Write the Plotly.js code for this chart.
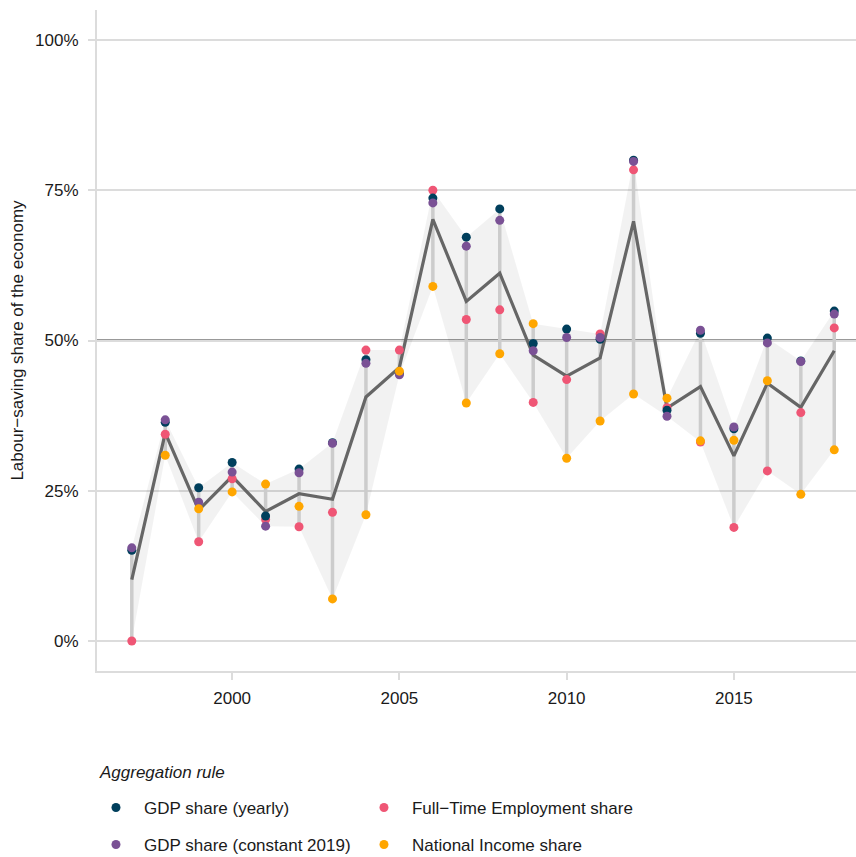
<!DOCTYPE html>
<html>
<head>
<meta charset="utf-8">
<script src="https://cdn.plot.ly/plotly-3.0.1.min.js"></script>
<style>
html,body{margin:0;padding:0;background:#fff;}
#chart{width:856px;height:857px;}
</style>
</head>
<body>
<div id="chart"></div>
<script>
// ---- data (percent) ----
const years = [1997,1998,1999,2000,2001,2002,2003,2004,2005,2006,2007,2008,2009,2010,2011,2012,2013,2014,2015,2016,2017,2018];
const gdpYearly = [15.1,36.4,25.5,29.7,20.8,28.6,33.0,46.8,44.5,73.7,67.2,71.9,49.5,51.9,50.2,80.0,38.4,51.2,35.3,50.4,46.6,54.9];
const gdpConstant = [15.5,36.8,23.1,28.1,19.1,28.0,32.9,46.2,44.3,72.9,65.7,70.0,48.3,50.5,50.5,79.8,37.4,51.7,35.6,49.6,46.5,54.4];
const fteShare = [0.0,34.4,16.5,27.0,20.2,19.0,21.4,48.4,48.4,75.0,53.5,55.1,39.7,43.5,51.1,78.4,38.8,33.1,18.9,28.3,38.0,52.1];
const niShare = [null,30.9,22.0,24.8,26.1,22.4,7.0,21.0,44.9,59.0,39.6,47.8,52.8,30.4,36.6,41.1,40.4,33.3,33.4,43.3,24.4,31.8];
const seriesNames = ["GDP share (yearly)","GDP share (constant 2019)","Full\u2212Time Employment share","National Income share"];
const yTicks = [0,25,50,75,100];
const xTicks = [2000,2005,2010,2015];
const refLevel = 50;

// ---- derived summaries ----
const all = [gdpYearly, gdpConstant, fteShare, niShare];
const lo = [], hi = [], avg = [];
years.forEach((yr,i)=>{
  const v = all.map(s=>s[i]).filter(d=>d!==null && d!==undefined);
  lo.push(Math.min(...v)); hi.push(Math.max(...v));
  avg.push(v.reduce((a,b)=>a+b,0)/v.length);
});
const segX = [], segY = [];
years.forEach((yr,i)=>{ segX.push(yr,yr,null); segY.push(lo[i],hi[i],null); });

const FONT = "Liberation Sans, Arial, Helvetica, sans-serif";
const colors = {blue:"#003f5c", purple:"#7a5195", red:"#ef5675", orange:"#ffa600"};

function pts(y, name, color, legend){
  return {x: years, y: y, type:"scatter", mode:"markers", name: name,
    marker:{color: color, size: 9, line:{width:0}}, legend: legend, hoverinfo:"skip"};
}

const traces = [
  {x: years, y: lo, type:"scatter", mode:"lines", line:{width:0, color:"rgba(0,0,0,0)"}, showlegend:false, hoverinfo:"skip"},
  {x: years, y: hi, type:"scatter", mode:"lines", line:{width:0, color:"rgba(0,0,0,0)"}, fill:"tonexty", fillcolor:"rgba(0,0,0,0.05)", showlegend:false, hoverinfo:"skip"},
  {x: segX, y: segY, type:"scatter", mode:"lines", line:{color:"#cccccc", width:3.5}, showlegend:false, hoverinfo:"skip"},
  {x: years, y: avg, type:"scatter", mode:"lines", line:{color:"#666666", width:3.2}, showlegend:false, hoverinfo:"skip"},
  pts(fteShare, seriesNames[2], colors.red, "legend3"),
  pts(gdpYearly, seriesNames[0], colors.blue, "legend"),
  pts(gdpConstant, seriesNames[1], colors.purple, "legend2"),
  pts(niShare, seriesNames[3], colors.orange, "legend4")
];

const legBase = {xanchor:"left", yanchor:"middle", orientation:"v", itemwidth:46,
  xref:"paper", yref:"container",
  font:{family:FONT, size:17, color:"#1a1a1a"}, bgcolor:"rgba(0,0,0,0)", borderwidth:0};
const col1 = -0.0119, col2 = 0.3412, row1 = (857-808)/857, row2 = (857-845)/857;

const layout = {
  width:856, height:857,
  margin:{l:97, r:0, t:10, b:186, autoexpand:false},
  paper_bgcolor:"#fff", plot_bgcolor:"#fff",
  font:{family:FONT, size:17, color:"#1a1a1a"},
  showlegend:true,
  legend: Object.assign({}, legBase, {x:col1, y:row1}),
  legend2: Object.assign({}, legBase, {x:col1, y:row2}),
  legend3: Object.assign({}, legBase, {x:col2, y:row1}),
  legend4: Object.assign({}, legBase, {x:col2, y:row2}),
  xaxis:{
    range:[1995.96, 2018.65], tickvals:xTicks, ticktext:xTicks.map(String),
    showgrid:false, zeroline:false, showline:true, linecolor:"#dcdcdc", linewidth:2,
    ticks:"outside", ticklen:7, tickwidth:2, tickcolor:"#dcdcdc",
    tickfont:{family:FONT, size:17, color:"#1a1a1a"}, ticklabelstandoff:4, fixedrange:true
  },
  yaxis:{
    range:[-5,105], tickvals:yTicks, ticktext:yTicks.map(v=>v+"%"),
    showgrid:true, gridcolor:"#dcdcdc", gridwidth:2,
    zeroline:false, showline:true, linecolor:"#dcdcdc", linewidth:2,
    ticks:"outside", ticklen:7, tickwidth:2, tickcolor:"#dcdcdc",
    tickfont:{family:FONT, size:17, color:"#1a1a1a"}, ticklabelstandoff:6,
    title:{text:"Labour\u2212saving share of the economy", font:{family:FONT, size:17, color:"#1a1a1a"}, standoff:7},
    fixedrange:true
  },
  shapes:[
    {type:"line", xref:"paper", x0:0, x1:1, yref:"y", y0:refLevel, y1:refLevel, layer:"between",
     line:{color:"#999999", width:2.8}}
  ],
  annotations:[
    {text:"<i>Aggregation rule</i>", xref:"paper", yref:"paper", x:0, y:-0.1528,
     xanchor:"left", yanchor:"middle", showarrow:false, font:{family:FONT, size:17, color:"#1a1a1a"}}
  ]
};

Plotly.newPlot("chart", traces, layout, {displayModeBar:false, staticPlot:true});
</script>
</body>
</html>
